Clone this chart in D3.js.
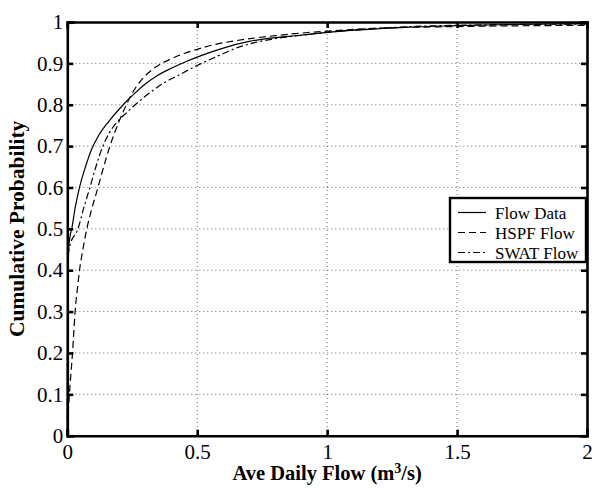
<!DOCTYPE html>
<html><head><meta charset="utf-8">
<script src="https://cdn.jsdelivr.net/npm/d3@7"></script>
<style>body{margin:0;background:#fff}svg{display:block}</style>
</head><body><svg id="c" width="595" height="489"></svg>
<script>
const seriesNames = ["Flow Data", "HSPF Flow", "SWAT Flow"];
const flowData = [[0,0],[0.001,0.3],[0.002,0.40],[0.005,0.45],[0.01,0.48],[0.017,0.5],[0.03,0.55],[0.047,0.6],[0.07,0.65],[0.092,0.69],[0.12,0.725],[0.16,0.76],[0.215,0.8],[0.26,0.828],[0.3,0.85],[0.35,0.872],[0.4,0.888],[0.46,0.905],[0.52,0.92],[0.6,0.937],[0.7,0.953],[0.78,0.961],[0.9,0.968],[1.0,0.975],[1.13,0.981],[1.3,0.987],[1.5,0.991],[1.7,0.994],[2.0,0.996]];
const hspfFlow = [[0,0],[0.003,0.05],[0.008,0.1],[0.014,0.15],[0.02,0.2],[0.025,0.25],[0.03,0.3],[0.038,0.35],[0.047,0.4],[0.06,0.45],[0.075,0.5],[0.095,0.55],[0.118,0.6],[0.14,0.65],[0.164,0.7],[0.19,0.745],[0.22,0.79],[0.25,0.828],[0.28,0.856],[0.31,0.876],[0.34,0.891],[0.4,0.911],[0.45,0.924],[0.5,0.934],[0.57,0.946],[0.65,0.955],[0.8,0.967],[1.0,0.978],[1.2,0.985],[1.5,0.989],[2.0,0.992]];
const swatFlow = [[0,0],[0.001,0.3],[0.002,0.42],[0.01,0.46],[0.041,0.5],[0.063,0.55],[0.087,0.6],[0.11,0.65],[0.137,0.7],[0.16,0.73],[0.19,0.757],[0.23,0.782],[0.27,0.805],[0.32,0.83],[0.37,0.852],[0.43,0.872],[0.5,0.895],[0.58,0.918],[0.65,0.937],[0.72,0.95],[0.8,0.96],[0.9,0.968],[1.0,0.975],[1.2,0.985],[1.5,0.992],[2.0,0.995]];
const xTicks = [0, 0.5, 1, 1.5, 2];
const yTicks = [0, 0.1, 0.2, 0.3, 0.4, 0.5, 0.6, 0.7, 0.8, 0.9, 1];

const svg = d3.select("#c");
const L = 67.3, R = 587, T = 22, B = 435.7;
const x = d3.scaleLinear().domain([0, 2]).range([L, R]);
const y = d3.scaleLinear().domain([0, 1]).range([B, T]);
const font = "'Liberation Serif','Times New Roman',serif";

// grid
const g = svg.append("g");
g.selectAll(".gx").data(xTicks.slice(1, -1)).enter().append("line")
  .attr("x1", d => x(d)).attr("x2", d => x(d)).attr("y1", T).attr("y2", B)
  .attr("stroke", "#666").attr("stroke-width", 1).attr("stroke-dasharray", "1,3");
g.selectAll(".gy").data(yTicks.slice(1, -1)).enter().append("line")
  .attr("y1", d => y(d)).attr("y2", d => y(d)).attr("x1", L).attr("x2", R)
  .attr("stroke", "#666").attr("stroke-width", 1).attr("stroke-dasharray", "1,3");

// curves
const line = d3.line().curve(d3.curveMonotoneX).x(d => x(d[0])).y(d => y(d[1]));
const styles = [null, "7,4", "7,3,2,3"];
[flowData, hspfFlow, swatFlow].forEach((s, i) => {
  svg.append("path").datum(s).attr("d", line).attr("fill", "none")
    .attr("stroke", "#000").attr("stroke-width", 1.2)
    .attr("stroke-dasharray", styles[i]);
});

// axes
const ax = d3.axisBottom(x).tickValues(xTicks).tickSize(-6).tickPadding(8).tickFormat(d3.format("~g"));
const ay = d3.axisLeft(y).tickValues(yTicks).tickSize(-6).tickPadding(4).tickFormat(d3.format("~g"));
const axT = d3.axisTop(x).tickValues(xTicks).tickSize(-6).tickFormat("");
const ayR = d3.axisRight(y).tickValues(yTicks).tickSize(-6).tickFormat("");
function sty(sel) {
  sel.selectAll("path").attr("stroke", "#000").attr("stroke-width", 2.6);
  sel.selectAll("line").attr("stroke", "#000").attr("stroke-width", 2.6);
  sel.selectAll("text").attr("font-family", font).attr("font-size", 21).attr("fill", "#000");
}
svg.append("g").attr("transform", `translate(0,${B})`).call(ax).call(sty);
svg.append("g").attr("transform", `translate(${L},0)`).call(ay).call(sty);
svg.append("g").attr("transform", `translate(0,${T})`).call(axT).call(sty);
svg.append("g").attr("transform", `translate(${R},0)`).call(ayR).call(sty);
svg.selectAll(".domain").attr("stroke-linecap", "square");

// labels
const xl = svg.append("text").attr("x", (L + R) / 2).attr("y", 480).attr("text-anchor", "middle")
  .attr("font-family", font).attr("font-size", 20.5).attr("font-weight", "bold");
xl.append("tspan").text("Ave Daily Flow (m");
xl.append("tspan").attr("dy", -7).attr("font-size", 14).text("3");
xl.append("tspan").attr("dy", 7).text("/s)");
svg.append("text").attr("transform", `translate(24,${(T + B) / 2}) rotate(-90)`)
  .attr("text-anchor", "middle").attr("font-family", font).attr("font-size", 21.5)
  .attr("font-weight", "bold").text("Cumulative Probability");

// legend
const lg = svg.append("g");
lg.append("rect").attr("x", 450).attr("y", 198).attr("width", 136).attr("height", 64)
  .attr("fill", "#fff").attr("stroke", "#000").attr("stroke-width", 2.4);
seriesNames.forEach((n, i) => {
  const yy = 212.5 + i * 20;
  lg.append("line").attr("x1", 458).attr("x2", 486).attr("y1", yy).attr("y2", yy)
    .attr("stroke", "#000").attr("stroke-width", 1.2).attr("stroke-dasharray", styles[i]);
  lg.append("text").attr("x", 495).attr("y", yy + 6).attr("font-family", font)
    .attr("font-size", 17).text(n);
});
</script></body></html>
